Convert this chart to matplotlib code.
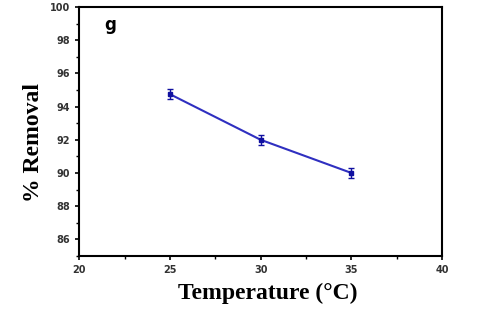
import matplotlib
matplotlib.use("Agg")
import matplotlib.pyplot as plt
from matplotlib.ticker import MultipleLocator

temperature = [25, 30, 35]
removal = [94.75, 92.0, 90.0]
error = [0.3, 0.3, 0.3]
x_ticks = [20, 25, 30, 35, 40]
y_ticks = [86, 88, 90, 92, 94, 96, 98, 100]

fig = plt.figure(figsize=(4.8, 3.09), dpi=100)
ax = fig.add_axes([0.165, 0.172, 0.756, 0.805])

ax.errorbar(temperature, removal, yerr=error, color="#2f2fc0", lw=1.5,
            marker="s", ms=3, mfc="#1010a0", mec="#1010a0",
            ecolor="#1010a0", elinewidth=1, capsize=2)

ax.set_xlim(20, 40)
ax.set_ylim(85, 100)
ax.set_xticks(x_ticks)
ax.set_yticks(y_ticks)
ax.xaxis.set_minor_locator(MultipleLocator(2.5))
ax.yaxis.set_minor_locator(MultipleLocator(1))
ax.tick_params(which="major", direction="out", length=3, width=1.2, labelsize=7)
ax.tick_params(which="minor", direction="out", length=2, width=1)
for lbl in ax.get_xticklabels() + ax.get_yticklabels():
    lbl.set_fontweight("bold")
    lbl.set_color("#333333")
for s in ax.spines.values():
    s.set_linewidth(1.5)

ax.set_xlabel("Temperature (°C)", family="Liberation Serif", fontweight="bold",
              fontsize=17)
ax.set_ylabel("% Removal", family="Liberation Serif", fontweight="bold",
              fontsize=17)
ax.xaxis.set_label_coords(0.52, -0.107)
ax.yaxis.set_label_coords(-0.097, 0.455)
ax.text(0.07, 0.965, "g", transform=ax.transAxes, fontsize=12, fontweight="bold",
        va="top", ha="left")

fig.savefig("out.png", dpi=100)
